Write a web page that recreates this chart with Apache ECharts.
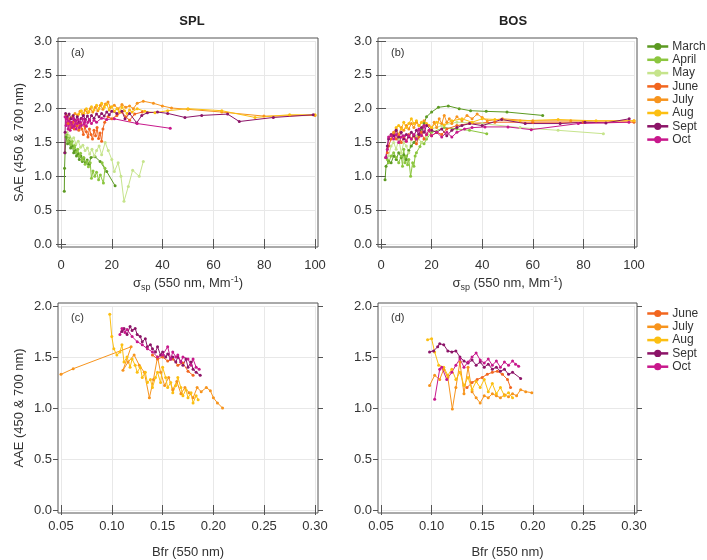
<!DOCTYPE html>
<html>
<head>
<meta charset="utf-8">
<script src="https://cdn.jsdelivr.net/npm/echarts@6/dist/echarts.min.js"></script>
<style>
  html, body { margin: 0; padding: 0; background: #fff; }
  #chart { width: 707px; height: 560px; }
</style>
</head>
<body>
<div id="chart"></div>
<script>
// month names and colours
const months = ['March', 'April', 'May', 'June', 'July', 'Aug', 'Sept', 'Oct'];
const aaeMonths = ['June', 'July', 'Aug', 'Sept', 'Oct'];
const monthColors = {
  March: '#5c9a22', April: '#8cc63f', May: '#c6e48c', June: '#f2661f',
  July: '#f7941d', Aug: '#fcbf12', Sept: '#8c1468', Oct: '#c8188c'
};

// (a) SPL: SAE vs sigma_sp
const splMarch = [[1.3,0.78],[1.4,1.12],[1.6,1.35],[2.0,1.58],[2.6,1.48],[3.2,1.52],[3.8,1.42],[4.5,1.45],[5.0,1.35],[5.6,1.38],[6.1,1.3],[6.7,1.33],[7.2,1.25],[7.8,1.3],[8.4,1.22],[9.0,1.27],[9.6,1.2],[10.3,1.24],[11.0,1.18],[11.8,1.28],[13.4,1.29],[15.4,1.22],[18.0,1.07],[21.3,0.86]];
const splApril = [[2.3,1.62],[2.8,1.52],[3.3,1.58],[3.9,1.47],[4.4,1.52],[5.0,1.42],[5.5,1.46],[6.1,1.36],[6.6,1.4],[7.2,1.3],[7.7,1.34],[8.3,1.24],[8.9,1.28],[9.5,1.18],[10.1,1.22],[10.8,1.14],[11.5,1.2],[12.0,0.97],[12.6,1.08],[13.3,1.0],[14.0,1.06],[14.8,0.95],[15.5,1.02],[16.7,0.9],[17.3,1.12],[16.2,1.2]];
const splMay = [[2.4,1.65],[3.2,1.6],[4.1,1.55],[5.0,1.57],[5.9,1.48],[6.8,1.52],[7.7,1.43],[8.6,1.46],[9.5,1.38],[10.4,1.42],[11.3,1.33],[12.2,1.4],[13.1,1.3],[14.0,1.38],[15.0,1.45],[16.0,1.32],[17.4,1.5],[18.6,1.38],[20.0,1.25],[21.0,1.07],[22.5,1.2],[23.6,1.0],[24.8,0.63],[26.5,0.85],[28.2,1.09],[30.8,1.0],[32.4,1.22]];
const splJune = [[2.2,1.9],[2.8,1.78],[3.4,1.85],[4.0,1.72],[4.6,1.8],[5.2,1.7],[5.8,1.82],[6.4,1.75],[7.0,1.68],[7.6,1.78],[8.2,1.7],[8.8,1.62],[9.4,1.74],[10.0,1.66],[10.6,1.58],[11.2,1.7],[11.8,1.62],[12.4,1.55],[13.0,1.68],[13.6,1.6],[14.2,1.72],[14.8,1.56],[15.4,1.64],[16.0,1.52],[16.5,1.7],[17.2,1.8],[18.5,1.88],[20,1.85],[22,1.9],[24,1.95],[25.5,1.88],[27,1.83],[29,1.92],[32,1.95]];
const splJuly = [[4.5,1.88],[5.5,1.93],[6.5,1.9],[7.5,1.96],[8.5,1.92],[9.5,1.98],[10.5,1.94],[11.5,2.0],[12.5,1.95],[13.5,2.02],[14.5,1.97],[15.5,2.05],[16.5,1.99],[17.5,2.07],[18.5,2.1],[19.5,2.02],[21,2.05],[22.5,2.0],[24,2.06],[25.5,2.02],[27,2.04],[28.5,2.0],[30,2.08],[32.4,2.11],[36.4,2.08],[39.9,2.04],[43.5,2.01],[50,1.99],[63.3,1.95],[79.9,1.89],[100,1.9]];
const splAug = [[7,1.92],[8,1.97],[9,1.93],[10,2.0],[11,1.95],[12,2.03],[13,1.98],[14,2.05],[15,2.0],[16,2.08],[17,2.02],[18,2.06],[19,1.98],[20,2.03],[21,1.96],[22,2.0],[23,1.95],[24,2.02],[25,1.97],[26,1.93],[27,1.98],[28,1.95],[30,2.0],[33,1.96],[37,1.94],[42,1.97],[50,2.0],[63.3,1.97],[76.4,1.87],[90,1.91],[100,1.91]];
const splSept = [[1.5,1.35],[1.6,1.65],[1.8,1.93],[2.5,1.88],[3.2,1.92],[4,1.85],[4.8,1.9],[5.6,1.83],[6.4,1.88],[7.2,1.8],[8,1.86],[8.8,1.9],[9.6,1.84],[10.4,1.89],[11.2,1.83],[12,1.9],[13,1.86],[14,1.92],[15,1.88],[16,1.93],[17,1.89],[18,1.95],[19,1.91],[20,1.96],[22,1.93],[24,1.96],[25.2,1.85],[27,1.93],[29.8,1.79],[31.8,1.9],[34,1.94],[38,1.95],[42,1.93],[48.8,1.87],[55.4,1.9],[65.6,1.92],[70.2,1.81],[83.6,1.87],[99.3,1.91]];
const splOct = [[1.6,1.88],[2.0,1.75],[2.4,1.85],[2.8,1.7],[3.2,1.82],[3.6,1.68],[4.0,1.8],[4.4,1.72],[4.8,1.86],[5.2,1.74],[5.6,1.82],[6.0,1.7],[6.4,1.78],[6.8,1.84],[7.2,1.72],[7.6,1.8],[8.0,1.75],[8.5,1.85],[9.0,1.77],[9.5,1.82],[10,1.74],[10.6,1.8],[11.2,1.84],[12,1.78],[13,1.83],[14,1.8],[16,1.86],[18,1.84],[21,1.85],[30,1.78],[43,1.71]];

// (b) BOS: SAE vs sigma_sp
const bosMarch = [[1.6,0.95],[2,1.15],[3,1.22],[4,1.2],[5,1.3],[6,1.25],[7,1.35],[8,1.28],[9,1.32],[10,1.25],[11,1.38],[12,1.45],[13,1.5],[14,1.55],[15,1.6],[16,1.7],[17,1.78],[18,1.88],[20,1.95],[22.7,2.02],[26.6,2.04],[30.9,2.0],[35.4,1.97],[41.6,1.96],[49.8,1.95],[63.9,1.9]];
const bosApril = [[2.5,1.25],[3,1.2],[4,1.3],[5,1.35],[6,1.28],[7,1.2],[8,1.3],[8.5,1.15],[9,1.4],[9.5,1.2],[10,1.3],[10.5,1.17],[11,1.25],[11.7,1.0],[12.5,1.2],[13,1.15],[13.5,1.3],[14,1.35],[15.4,1.44],[16,1.5],[17,1.48],[18,1.55],[20,1.65],[25,1.72],[30,1.7],[35,1.68],[41.8,1.63]];
const bosMay = [[3,1.3],[4,1.45],[5,1.5],[6,1.4],[7,1.55],[8,1.35],[9,1.5],[10,1.45],[11,1.35],[12,1.55],[14,1.6],[16,1.5],[18,1.58],[20,1.7],[24,1.75],[30,1.8],[40,1.78],[55,1.72],[70,1.68],[87.9,1.63]];
const bosJune = [[2.5,1.35],[3,1.45],[4,1.55],[5,1.62],[6,1.55],[7,1.6],[8,1.5],[9,1.58],[10,1.52],[11,1.62],[12,1.55],[13,1.6],[14,1.48],[15,1.58],[16,1.65],[17,1.55],[18,1.62],[19,1.68],[20,1.6],[22,1.65],[24,1.62],[26,1.7],[30,1.75],[35,1.78],[45,1.8],[60,1.8],[80,1.8],[100,1.8]];
const bosJuly = [[4,1.6],[5,1.65],[6,1.7],[7,1.62],[8,1.72],[9,1.68],[10,1.75],[11,1.7],[12,1.78],[13,1.72],[14,1.8],[15,1.75],[17,1.82],[19,1.75],[20,1.7],[21,1.8],[22,1.72],[23,1.85],[24,1.78],[25,1.9],[26,1.8],[27,1.85],[28,1.78],[30,1.88],[32,1.82],[34,1.9],[36,1.85],[38,1.92],[40,1.87],[42,1.82],[48,1.85],[60,1.82],[75,1.82],[100,1.82]];
const bosAug = [[6,1.72],[7,1.75],[8,1.7],[9,1.8],[10,1.72],[11,1.78],[12,1.85],[13,1.78],[14,1.82],[15,1.75],[16,1.8],[18,1.78],[20,1.72],[22,1.8],[25,1.76],[28,1.82],[32,1.85],[36,1.8],[40,1.85],[45,1.84],[55,1.82],[70,1.84],[85,1.82],[100,1.82]];
const bosSept = [[2,1.28],[2.5,1.45],[3,1.55],[4,1.62],[5,1.6],[6,1.68],[7,1.58],[8,1.65],[9,1.55],[10,1.62],[11,1.58],[12,1.65],[13,1.6],[14,1.68],[15,1.62],[16,1.72],[17,1.65],[18,1.75],[20,1.68],[22,1.65],[24,1.7],[26,1.6],[28,1.68],[30,1.72],[32,1.75],[35,1.78],[40,1.75],[47.7,1.84],[57,1.78],[70.8,1.78],[80.6,1.8],[88.9,1.79],[98.1,1.85]];
const bosOct = [[1.8,1.28],[2.5,1.4],[3,1.58],[4,1.6],[5,1.55],[6,1.62],[7,1.5],[8,1.58],[9,1.6],[10,1.52],[11,1.6],[12,1.55],[13,1.62],[14,1.55],[15,1.7],[16,1.6],[17,1.75],[18,1.62],[19,1.68],[20,1.6],[22,1.65],[24,1.58],[26,1.65],[28,1.58],[30,1.65],[33,1.7],[36,1.72],[41.1,1.73],[50.2,1.73],[59.4,1.69],[78,1.78],[98,1.8]];

// (c) SPL: AAE vs Bfr
const splAaeJune = [[0.14,1.52],[0.145,1.48],[0.15,1.5],[0.155,1.46],[0.16,1.48],[0.165,1.42],[0.17,1.44],[0.175,1.36],[0.18,1.32]];
const splAaeJuly = [[0.05,1.33],[0.062,1.385],[0.119,1.6],[0.111,1.37],[0.116,1.45],[0.122,1.52],[0.127,1.42],[0.132,1.35],[0.137,1.1],[0.141,1.28],[0.145,1.5],[0.148,1.35],[0.152,1.22],[0.156,1.3],[0.16,1.18],[0.164,1.26],[0.168,1.14],[0.172,1.2],[0.176,1.15],[0.18,1.1],[0.184,1.2],[0.188,1.16],[0.193,1.2],[0.197,1.17],[0.2,1.1],[0.204,1.05],[0.209,1.0]];
const splAaeAug = [[0.098,1.92],[0.1,1.7],[0.102,1.58],[0.105,1.52],[0.108,1.55],[0.11,1.62],[0.112,1.45],[0.115,1.5],[0.118,1.4],[0.12,1.48],[0.123,1.42],[0.125,1.35],[0.128,1.4],[0.13,1.3],[0.133,1.35],[0.135,1.25],[0.138,1.28],[0.14,1.2],[0.143,1.3],[0.145,1.35],[0.148,1.25],[0.15,1.4],[0.153,1.3],[0.155,1.2],[0.158,1.25],[0.16,1.15],[0.163,1.22],[0.165,1.3],[0.168,1.2],[0.17,1.12],[0.173,1.18],[0.175,1.1],[0.178,1.15],[0.18,1.05],[0.183,1.12],[0.185,1.08]];
const splAaeSept = [[0.11,1.75],[0.112,1.78],[0.115,1.72],[0.118,1.8],[0.12,1.76],[0.123,1.78],[0.125,1.72],[0.128,1.7],[0.13,1.65],[0.133,1.68],[0.135,1.6],[0.138,1.62],[0.14,1.58],[0.143,1.55],[0.145,1.6],[0.148,1.52],[0.15,1.55],[0.153,1.5],[0.155,1.53],[0.158,1.48],[0.16,1.5],[0.163,1.45],[0.165,1.5],[0.168,1.45],[0.17,1.42],[0.173,1.48],[0.175,1.4],[0.178,1.45],[0.18,1.38],[0.183,1.35],[0.187,1.32]];
const splAaeOct = [[0.108,1.72],[0.11,1.78],[0.113,1.74],[0.115,1.77],[0.12,1.7],[0.125,1.65],[0.13,1.62],[0.135,1.58],[0.14,1.55],[0.145,1.5],[0.15,1.52],[0.155,1.6],[0.158,1.48],[0.16,1.55],[0.163,1.5],[0.165,1.52],[0.168,1.45],[0.17,1.5],[0.175,1.48],[0.178,1.42],[0.18,1.48],[0.183,1.4],[0.186,1.38]];

// (d) BOS: AAE vs Bfr
const bosAaeJune = [[0.135,1.2],[0.14,1.25],[0.145,1.28],[0.15,1.3],[0.155,1.33],[0.16,1.35],[0.165,1.36],[0.17,1.33],[0.175,1.28],[0.178,1.2]];
const bosAaeJuly = [[0.098,1.22],[0.103,1.32],[0.108,1.28],[0.112,1.38],[0.116,1.3],[0.1205,0.99],[0.124,1.2],[0.128,1.45],[0.132,1.14],[0.136,1.4],[0.14,1.16],[0.144,1.1],[0.148,1.05],[0.152,1.12],[0.156,1.1],[0.16,1.14],[0.164,1.12],[0.168,1.1],[0.172,1.13],[0.176,1.11],[0.18,1.14],[0.184,1.12],[0.188,1.18],[0.193,1.16],[0.199,1.15]];
const bosAaeAug = [[0.096,1.67],[0.1,1.68],[0.103,1.55],[0.107,1.42],[0.112,1.4],[0.116,1.32],[0.12,1.38],[0.124,1.28],[0.128,1.35],[0.132,1.22],[0.136,1.3],[0.14,1.18],[0.144,1.26],[0.148,1.2],[0.152,1.28],[0.156,1.16],[0.16,1.24],[0.164,1.14],[0.168,1.2],[0.172,1.12],[0.176,1.15],[0.18,1.1]];
const bosAaeSept = [[0.098,1.55],[0.102,1.56],[0.106,1.6],[0.108,1.63],[0.112,1.62],[0.116,1.56],[0.12,1.55],[0.124,1.56],[0.128,1.5],[0.132,1.46],[0.136,1.44],[0.14,1.47],[0.144,1.42],[0.148,1.45],[0.152,1.4],[0.156,1.43],[0.16,1.38],[0.164,1.4],[0.168,1.36],[0.172,1.38],[0.176,1.33],[0.18,1.35],[0.188,1.29]];
const bosAaeOct = [[0.103,1.085],[0.108,1.38],[0.11,1.4],[0.115,1.28],[0.12,1.35],[0.124,1.42],[0.128,1.48],[0.132,1.4],[0.136,1.45],[0.14,1.5],[0.144,1.54],[0.148,1.47],[0.152,1.44],[0.156,1.48],[0.16,1.42],[0.164,1.46],[0.168,1.4],[0.172,1.45],[0.176,1.42],[0.18,1.46],[0.183,1.43],[0.186,1.41]];

const panelSeries = [
  { March: splMarch, April: splApril, May: splMay, June: splJune, July: splJuly, Aug: splAug, Sept: splSept, Oct: splOct },
  { March: bosMarch, April: bosApril, May: bosMay, June: bosJune, July: bosJuly, Aug: bosAug, Sept: bosSept, Oct: bosOct },
  { June: splAaeJune, July: splAaeJuly, Aug: splAaeAug, Sept: splAaeSept, Oct: splAaeOct },
  { June: bosAaeJune, July: bosAaeJuly, Aug: bosAaeAug, Sept: bosAaeSept, Oct: bosAaeOct }
];

const FONT = '"Liberation Sans", Arial, sans-serif';
const sigmaName = '{a|σ}{sub|sp}{a| (550 nm, Mm}{sup|-1}{a|)}';
const nameRich = {
  a: { fontSize: 13, color: '#333', fontFamily: FONT },
  sub: { fontSize: 9, color: '#333', fontFamily: FONT, padding: [8, 0, 0, 0] },
  sup: { fontSize: 9, color: '#333', fontFamily: FONT, padding: [0, 0, 8, 0] }
};

// panel layout (data area; frame is 3px outside)
const panels = [
  { label: '(a)', left: 61, top: 41, width: 254, height: 203, x: [0, 100, 20], y: [0, 3, 0.5], xDec: 0, xName: sigmaName, yName: 'SAE (450 & 700 nm)', lm: 12, ng: 28 },
  { label: '(b)', left: 381, top: 41, width: 253, height: 203, x: [0, 100, 20], y: [0, 3, 0.5], xDec: 0, xName: sigmaName, yName: '', lm: 12, ng: 28 },
  { label: '(c)', left: 61, top: 306, width: 254, height: 204, x: [0.05, 0.3, 0.05], y: [0, 2, 0.5], xDec: 2, xName: 'Bfr (550 nm)', yName: 'AAE (450 & 700 nm)', lm: 7, ng: 33 },
  { label: '(d)', left: 381, top: 306, width: 253, height: 204, x: [0.05, 0.3, 0.05], y: [0, 2, 0.5], xDec: 2, xName: 'Bfr (550 nm)', yName: '', lm: 7, ng: 33 }
];

const grid = [], xAxis = [], yAxis = [], series = [], titles = [];
const tick = { show: true, inside: false, length: 5, lineStyle: { color: '#555', width: 1 } };
const split = { show: true, lineStyle: { color: '#e8e8e8', width: 1 } };
const lbl = { color: '#333', fontSize: 13, fontFamily: FONT };

panels.forEach((p, i) => {
  const g = grid.length;
  grid.push({ left: p.left, top: p.top, width: p.width, height: p.height, containLabel: false });
  grid.push({ left: p.left - 3, top: p.top - 3, width: p.width + 6, height: p.height + 6,
    show: true, borderColor: '#555', borderWidth: 1, backgroundColor: 'transparent' });

  const xi = xAxis.length, yi = yAxis.length;
  xAxis.push({
    type: 'value', gridIndex: g, min: p.x[0], max: p.x[1], interval: p.x[2], offset: 3,
    axisLine: { show: false }, axisTick: tick, splitLine: split,
    axisLabel: Object.assign({ margin: p.lm, formatter: v => v.toFixed(p.xDec) }, lbl),
    name: p.xName, nameLocation: 'middle', nameGap: p.ng,
    nameTextStyle: { fontSize: 13, color: '#333', fontFamily: FONT, rich: nameRich }
  });
  xAxis.push({
    type: 'value', gridIndex: g, position: 'top', min: p.x[0], max: p.x[1], interval: p.x[2], offset: 3,
    axisLine: { show: false }, axisTick: tick, splitLine: { show: false }, axisLabel: { show: false }
  });
  xAxis.push({ type: 'value', gridIndex: g + 1, show: false });
  yAxis.push({
    type: 'value', gridIndex: g, min: p.y[0], max: p.y[1], interval: p.y[2], offset: 3,
    axisLine: { show: false }, axisTick: tick, splitLine: split,
    axisLabel: Object.assign({ margin: 6, formatter: v => v.toFixed(1) }, lbl),
    name: p.yName, nameLocation: 'middle', nameGap: 32,
    nameTextStyle: { fontSize: 13, color: '#333', fontFamily: FONT }
  });
  yAxis.push({
    type: 'value', gridIndex: g, position: 'right', min: p.y[0], max: p.y[1], interval: p.y[2], offset: 3,
    axisLine: { show: false }, axisTick: tick, splitLine: { show: false }, axisLabel: { show: false }
  });
  yAxis.push({ type: 'value', gridIndex: g + 1, show: false });

  titles.push({ text: p.label, left: p.left + 5, top: p.top + 1,
    textStyle: { fontSize: 11, fontWeight: 'normal', color: '#333', fontFamily: FONT } });

  const data = panelSeries[i];
  months.forEach(m => {
    if (!data[m]) return;
    series.push({
      name: m, type: 'line', xAxisIndex: xi, yAxisIndex: yi, data: data[m],
      symbol: 'circle', symbolSize: 3, showSymbol: true,
      lineStyle: { width: 1, color: monthColors[m] },
      itemStyle: { color: monthColors[m] },
      emphasis: { disabled: true }
    });
  });
});

titles.push({ text: 'SPL', left: 187, top: 10, textAlign: 'center',
  textStyle: { fontSize: 13, fontWeight: 'bold', color: '#222', fontFamily: FONT } });
titles.push({ text: 'BOS', left: 508, top: 10, textAlign: 'center',
  textStyle: { fontSize: 13, fontWeight: 'bold', color: '#222', fontFamily: FONT } });

const legendCommon = {
  orient: 'vertical', left: 646, itemWidth: 21, itemHeight: 9, itemGap: 0.3,
  padding: 0, lineStyle: { width: 2.5 }, selectedMode: false,
  textStyle: { fontSize: 12, lineHeight: 13, color: '#333', fontFamily: FONT, padding: [0, 0, 0, -1] }
};

const chart = echarts.init(document.getElementById('chart'), null, { renderer: 'canvas' });
chart.setOption({
  animation: false,
  backgroundColor: '#fff',
  title: titles,
  legend: [
    Object.assign({ top: 40, data: months }, legendCommon),
    Object.assign({ top: 307, data: aaeMonths }, legendCommon)
  ],
  grid: grid,
  xAxis: xAxis,
  yAxis: yAxis,
  series: series
});
</script>
</body>
</html>
